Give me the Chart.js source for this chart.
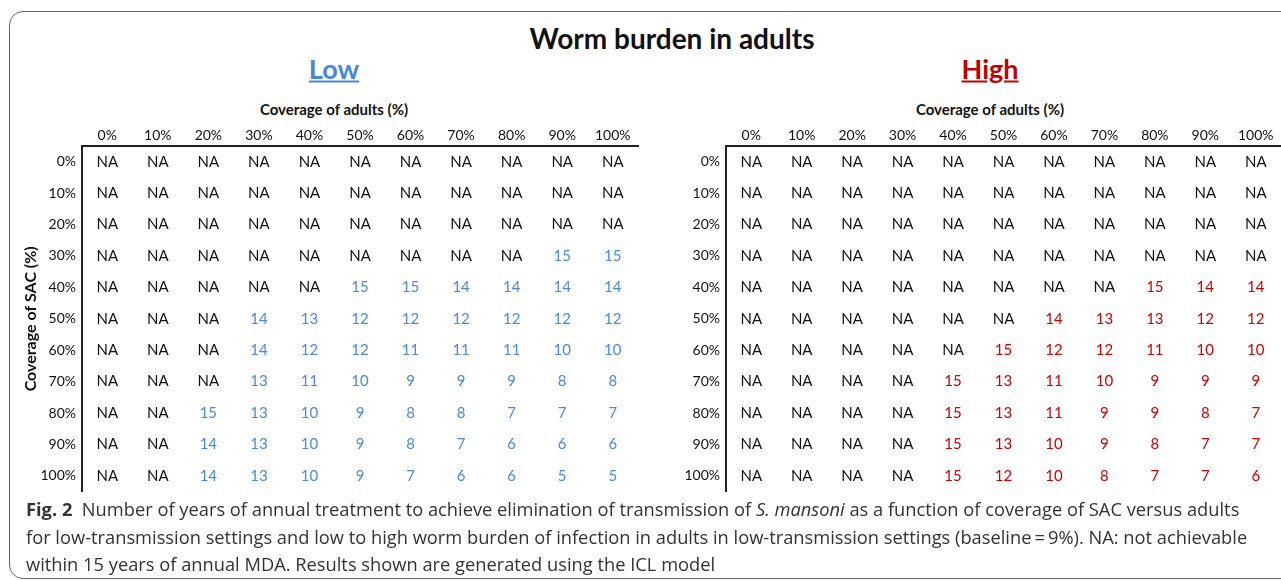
<!DOCTYPE html>
<html>
<head>
<meta charset="utf-8">
<script src="https://cdn.jsdelivr.net/npm/chart.js@4.4.0/dist/chart.umd.min.js"></script>
<style>
  body { margin: 0; width: 1281px; height: 580px; overflow: hidden; position: relative; background: #fff; font-family: Lato, "Open Sans", sans-serif; color: #111; }
  #frame { position: absolute; left: 9px; top: 11px; width: 1330px; height: 566px; border: 1.5px solid #666; border-radius: 14px; }
  .c { position: absolute; white-space: nowrap; transform: translate(-50%, -50%); font-weight: bold; }
  #cap { position: absolute; left: 26px; top: 495px; font-family: "Open Sans", sans-serif; font-size: 18.3px; line-height: 27.5px; color: #333; white-space: nowrap; }
  canvas { position: absolute; }
</style>
</head>
<body>
<div id="frame"></div>
<div class="c" style="left:672px; top:38px; font-size:28px;">Worm burden in adults</div>
<div class="c" style="left:334px; top:68px; font-size:27px; color:#4a86d8; text-decoration:underline;">Low</div>
<div class="c" style="left:990px; top:68px; font-size:27px; color:#c00000; text-decoration:underline;">High</div>
<div class="c" style="left:334px; top:109px; font-size:15px;">Coverage of adults (%)</div>
<div class="c" style="left:990px; top:109px; font-size:15px;">Coverage of adults (%)</div>
<canvas id="lowChart" width="645" height="406" style="left:0; top:100px;"></canvas>
<canvas id="highChart" width="641" height="406" style="left:640px; top:100px;"></canvas>
<div id="cap">
  <b>Fig. 2</b>&nbsp; Number of years of annual treatment to achieve elimination of transmission of <i>S. mansoni</i> as a function of coverage of SAC versus adults<br>
  for low-transmission settings and low to high worm burden of infection in adults in low-transmission settings (baseline&thinsp;=&thinsp;9%). NA: not achievable<br>
  within 15 years of annual MDA. Results shown are generated using the ICL model
</div>
<script>
// column = coverage of adults, row = coverage of SAC
var adultCov = ["0%", "10%", "20%", "30%", "40%", "50%", "60%", "70%", "80%", "90%", "100%"];
var sacCov = ["0%", "10%", "20%", "30%", "40%", "50%", "60%", "70%", "80%", "90%", "100%"];

// years to elimination, null = NA
var lowBurden = [
  [null, null, null, null, null, null, null, null, null, null, null],
  [null, null, null, null, null, null, null, null, null, null, null],
  [null, null, null, null, null, null, null, null, null, null, null],
  [null, null, null, null, null, null, null, null, null, 15, 15],
  [null, null, null, null, null, 15, 15, 14, 14, 14, 14],
  [null, null, null, 14, 13, 12, 12, 12, 12, 12, 12],
  [null, null, null, 14, 12, 12, 11, 11, 11, 10, 10],
  [null, null, null, 13, 11, 10, 9, 9, 9, 8, 8],
  [null, null, 15, 13, 10, 9, 8, 8, 7, 7, 7],
  [null, null, 14, 13, 10, 9, 8, 7, 6, 6, 6],
  [null, null, 14, 13, 10, 9, 7, 6, 6, 5, 5]
];
var highBurden = [
  [null, null, null, null, null, null, null, null, null, null, null],
  [null, null, null, null, null, null, null, null, null, null, null],
  [null, null, null, null, null, null, null, null, null, null, null],
  [null, null, null, null, null, null, null, null, null, null, null],
  [null, null, null, null, null, null, null, null, 15, 14, 14],
  [null, null, null, null, null, null, 14, 13, 13, 12, 12],
  [null, null, null, null, null, 15, 12, 12, 11, 10, 10],
  [null, null, null, null, 15, 13, 11, 10, 9, 9, 9],
  [null, null, null, null, 15, 13, 11, 9, 9, 8, 7],
  [null, null, null, null, 15, 13, 10, 9, 8, 7, 7],
  [null, null, null, null, 15, 12, 10, 8, 7, 7, 6]
];

var FONT = "Lato, 'Open Sans', sans-serif";

// writes the value (or NA) at each point position
var cellText = {
  id: "cellText",
  afterDatasetsDraw: function (chart) {
    var ctx = chart.ctx;
    var ds = chart.data.datasets[0];
    var meta = chart.getDatasetMeta(0);
    ctx.save();
    ctx.font = "15px " + FONT;
    ctx.textAlign = "center";
    ctx.textBaseline = "middle";
    meta.data.forEach(function (pt, i) {
      var v = ds.data[i].v;
      ctx.fillStyle = v == null ? "#111" : ds.valueColor;
      ctx.fillText(v == null ? "NA" : String(v), pt.x, pt.y);
    });
    ctx.restore();
  }
};

function makeGrid(canvasId, values, color, yTitle, padLeft, yWidth, padRight) {
  var pts = [];
  values.forEach(function (row, r) {
    row.forEach(function (v, c) {
      pts.push({ x: adultCov[c], y: sacCov[r], v: v });
    });
  });
  return new Chart(document.getElementById(canvasId), {
    type: "scatter",
    data: {
      datasets: [{ data: pts, pointRadius: 0, valueColor: color }]
    },
    options: {
      responsive: false,
      animation: false,
      layout: { padding: { left: padLeft, right: padRight, top: 0, bottom: 4 } },
      plugins: { legend: { display: false }, tooltip: { enabled: false } },
      scales: {
        x: {
          type: "category",
          labels: adultCov,
          position: "top",
          offset: true,
          grid: { display: false, drawTicks: false },
          border: { color: "#222", width: 2 },
          ticks: { color: "#111", font: { family: FONT, size: 14 }, padding: 2, autoSkip: false, maxRotation: 0 },
          afterFit: function (s) { s.height = 46; }
        },
        y: {
          type: "category",
          labels: sacCov,
          offset: true,
          grid: { display: false, drawTicks: false },
          border: { color: "#222", width: 2 },
          ticks: { color: "#111", font: { family: FONT, size: 14 }, padding: 6, autoSkip: false },
          title: {
            display: !!yTitle,
            text: yTitle,
            color: "#111",
            font: { family: FONT, size: 16, weight: "bold" },
            padding: 0
          },
          afterFit: function (s) { s.width = yWidth; }
        }
      }
    },
    plugins: [cellText]
  });
}

makeGrid("lowChart", lowBurden, "#4a89dc", "Coverage of SAC (%)", 21, 61, 7);
makeGrid("highChart", highBurden, "#d00000", "", 0, 86, 0);
</script>
</body>
</html>
